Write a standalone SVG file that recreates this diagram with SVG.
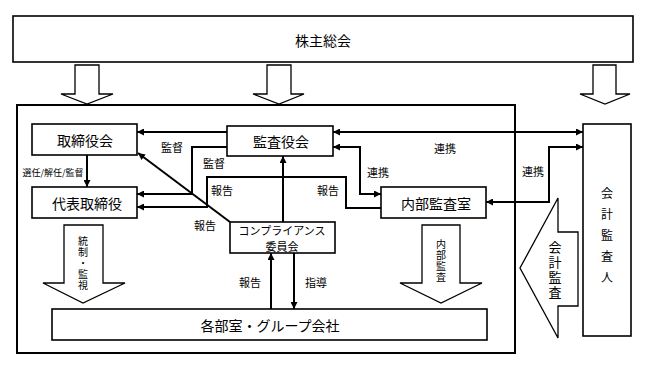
<svg xmlns="http://www.w3.org/2000/svg" width="648" height="369" viewBox="0 0 648 369">
<defs>
<marker id="ah" viewBox="0 0 10 10" refX="10" refY="5" markerWidth="7" markerHeight="7" markerUnits="userSpaceOnUse" orient="auto-start-reverse">
<path d="M0,0 L10,5 L0,10 z" fill="#000"/>
</marker>
<style>
.box{fill:#fff;stroke:#000;stroke-width:1.6}
.frame{fill:none;stroke:#000;stroke-width:2}
.harrow{fill:#fff;stroke:#000;stroke-width:1.3;stroke-linejoin:miter}
.t{font-family:"Noto Sans CJK JP","Noto Sans CJK SC",sans-serif;fill:#000;text-anchor:middle;dominant-baseline:central}
.v{writing-mode:vertical-rl}
.big{font-size:14px}
.mid{font-size:12px}
.lab{font-size:11px}
.vt{font-size:10px;letter-spacing:1px}
.sm{font-size:9px}
.con{fill:none;stroke:#000;stroke-width:2}
.end{marker-end:url(#ah)}
.both{marker-start:url(#ah);marker-end:url(#ah)}
</style>
</defs>
<rect width="648" height="369" fill="#fff"/>

<g id="shareholders">
<rect class="box" x="13" y="16" width="620" height="46"/>
<text class="t big" x="323" y="40">株主総会</text>
</g>

<g id="arrows-from-shareholders">
<polygon class="harrow" points="75,65 99,65 99,94 113,94 87,104 61,94 75,94"/>
<polygon class="harrow" points="267,65 291,65 291,94 304,94 279,104 253,94 267,94"/>
<polygon class="harrow" points="593,65 616,65 616,94 630,94 605,104 580,94 593,94"/>
</g>

<g id="company-frame">
<rect class="frame" x="17" y="105" width="498" height="248"/>
</g>

<g id="board">
<rect class="box" x="32" y="124" width="105" height="31"/>
<text class="t big" x="85" y="140">取締役会</text>
</g>

<g id="representative">
<rect class="box" x="32" y="187" width="105" height="31"/>
<text class="t big" x="87" y="203">代表取締役</text>
</g>

<g id="auditors">
<rect class="box" x="227" y="126" width="106" height="30"/>
<text class="t big" x="281" y="141">監査役会</text>
</g>

<g id="internal-audit">
<rect class="box" x="381" y="187" width="105" height="31"/>
<text class="t big" x="436" y="203">内部監査室</text>
</g>

<g id="compliance">
<rect class="box" x="230" y="222" width="105" height="31"/>
<text class="t lab" x="282" y="229.5">コンプライアンス</text>
<text class="t lab" x="282" y="245.5">委員会</text>
</g>

<g id="departments">
<rect class="box" x="52" y="309" width="435" height="31"/>
<text class="t big" x="270" y="325">各部室・グループ会社</text>
</g>

<g id="accounting-auditor">
<rect class="box" x="583" y="124" width="48" height="212"/>
<text class="t v mid" style="letter-spacing:9px" x="607" y="240">会計監査人</text>
</g>

<g id="control-arrow">
<polygon class="harrow" points="64,225 103,225 103,283 125,283 83,303 43,283 64,283"/>
<text class="t v vt" x="83" y="264">統制・監視</text>
</g>

<g id="internal-audit-arrow">
<polygon class="harrow" points="422,225 460,225 460,283 482,283 441,303 400,283 422,283"/>
<text class="t v vt" x="441" y="261">内部監査</text>
</g>

<g id="accounting-audit-arrow">
<polygon class="harrow" points="558,198 558,232 578,232 578,306 558,306 558,338 520,268"/>
<text class="t v" style="font-size:13px;letter-spacing:2px" x="555" y="271">会計監査</text>
</g>

<g id="connectors">
<polyline class="con end" points="227,132 137,132"/>
<polyline class="con end" points="227,147 192,147 192,194 137,194"/>
<polyline class="con end" points="381,208 346,208 346,177 207,177 207,207 137,207"/>
<polyline class="con end" points="230,222 138,153"/>
<polyline class="con end" points="283,222 283,156"/>
<polyline class="con both" points="333,132 583,132"/>
<polyline class="con both" points="333,147 360,147 360,194 381,194"/>
<polyline class="con both" points="486,202 549,202 549,147 583,147"/>
<polyline class="con end" points="87,155 87,187"/>
<polyline class="con end" points="271,309 271,253"/>
<polyline class="con end" points="294,253 294,309"/>
</g>

<g id="connector-labels">
<text class="t lab" x="172" y="147">監督</text>
<text class="t lab" x="214" y="163">監督</text>
<text class="t lab" x="222" y="190">報告</text>
<text class="t lab" x="328" y="190">報告</text>
<text class="t lab" x="205" y="225">報告</text>
<text class="t lab" x="445" y="148">連携</text>
<text class="t lab" x="378" y="172">連携</text>
<text class="t lab" x="533" y="171">連携</text>
<text class="t lab" x="250" y="282">報告</text>
<text class="t lab" x="316" y="282">指導</text>
<text class="t sm" x="53" y="172">選任/解任/監督</text>
</g>
</svg>
